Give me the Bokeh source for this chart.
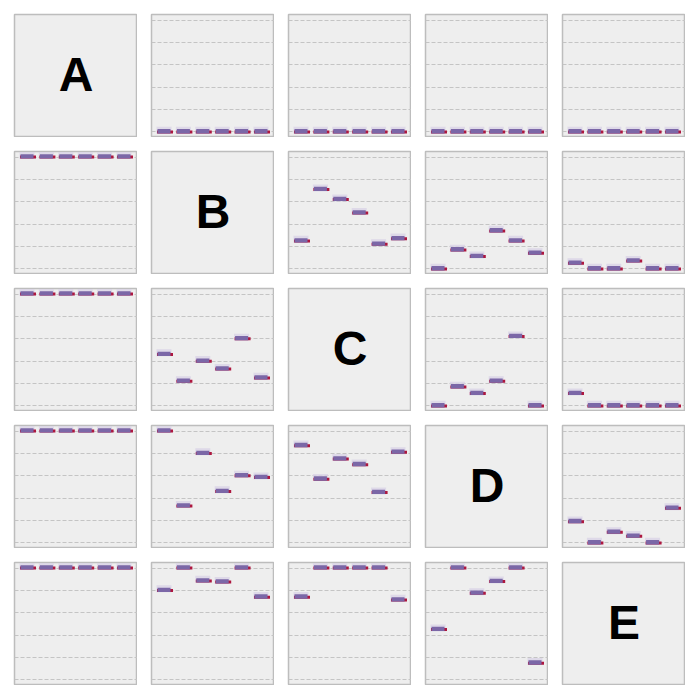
from bokeh.plotting import figure
from bokeh.layouts import gridplot
from bokeh.models import FixedTicker, Range1d
from bokeh.core.properties import value
from bokeh.embed import file_html
from bokeh.resources import INLINE

labels = ["A", "B", "C", "D", "E"]
positions = [0, 1, 2, 3, 4, 5]
grid_ticks = [0.0, 0.2, 0.4, 0.6, 0.8, 1.0]

# values for panel (row, column)
A_B = [0.0, 0.0, 0.0, 0.0, 0.0, 0.0]
A_C = [0.0, 0.0, 0.0, 0.0, 0.0, 0.0]
A_D = [0.0, 0.0, 0.0, 0.0, 0.0, 0.0]
A_E = [0.0, 0.0, 0.0, 0.0, 0.0, 0.0]

B_A = [1.0, 1.0, 1.0, 1.0, 1.0, 1.0]
B_C = [0.25, 0.71, 0.62, 0.50, 0.22, 0.27]
B_D = [0.0, 0.17, 0.11, 0.34, 0.25, 0.14]
B_E = [0.05, 0.0, 0.0, 0.07, 0.0, 0.0]

C_A = [1.0, 1.0, 1.0, 1.0, 1.0, 1.0]
C_B = [0.46, 0.22, 0.40, 0.33, 0.60, 0.25]
C_D = [0.0, 0.17, 0.11, 0.22, 0.62, 0.0]
C_E = [0.11, 0.0, 0.0, 0.0, 0.0, 0.0]

D_A = [1.0, 1.0, 1.0, 1.0, 1.0, 1.0]
D_B = [1.0, 0.33, 0.80, 0.46, 0.60, 0.585]
D_C = [0.87, 0.57, 0.75, 0.70, 0.45, 0.81]
D_E = [0.19, 0.0, 0.095, 0.06, 0.0, 0.31]

E_A = [1.0, 1.0, 1.0, 1.0, 1.0, 1.0]
E_B = [0.80, 1.0, 0.885, 0.875, 1.0, 0.74]
E_C = [0.74, 1.0, 1.0, 1.0, 1.0, 0.715]
E_D = [0.45, 1.0, 0.775, 0.88, 1.0, 0.15]

panels = {
    ("A", "B"): A_B, ("A", "C"): A_C, ("A", "D"): A_D, ("A", "E"): A_E,
    ("B", "A"): B_A, ("B", "C"): B_C, ("B", "D"): B_D, ("B", "E"): B_E,
    ("C", "A"): C_A, ("C", "B"): C_B, ("C", "D"): C_D, ("C", "E"): C_E,
    ("D", "A"): D_A, ("D", "B"): D_B, ("D", "C"): D_C, ("D", "E"): D_E,
    ("E", "A"): E_A, ("E", "B"): E_B, ("E", "C"): E_C, ("E", "D"): E_D,
}

FRAME = 123
GAP = 14
X0, X1 = -0.67, 5.67
Y0, Y1 = -0.05, 1.05
px_x = (X1 - X0) / FRAME
px_y = (Y1 - Y0) / FRAME

PURPLE = "#7b67a7"
CRIMSON = "#ad173f"
HALO = "#d9d3e6"

figs = []
for r in labels:
    for c in labels:
        p = figure(width=FRAME + GAP, height=FRAME + GAP, output_backend="svg",
                   toolbar_location=None, x_range=Range1d(X0, X1), y_range=Range1d(Y0, Y1),
                   min_border_left=GAP, min_border_top=GAP, min_border_right=0, min_border_bottom=0)
        p.axis.visible = False
        p.xgrid.visible = False
        p.background_fill_color = "#eeeeee"
        p.border_fill_color = "white"
        p.outline_line_color = "#bdbdbd"
        p.outline_line_width = 1.5
        if r == c:
            p.ygrid.visible = False
            p.text(x=[(X0 + X1) / 2], y=[(Y0 + Y1) / 2 + 2 * px_y], text=[r],
                   text_font=value("Liberation Sans"), text_font_style="bold",
                   text_font_size="48px", text_align="center", text_baseline="middle",
                   text_color="black")
        else:
            p.ygrid.ticker = FixedTicker(ticks=grid_ticks)
            p.ygrid.grid_line_color = "#c4c4c4"
            p.ygrid.grid_line_dash = "4 2"
            p.ygrid.grid_line_width = 1
            vals = panels[(r, c)]
            xs = positions
            p.rect(x=[x - 0.5 * px_x for x in xs], y=[v + 1.6 * px_y for v in vals],
                   width=15, height=7, width_units="screen", height_units="screen",
                   fill_color=HALO, line_color=None, fill_alpha=0.8)
            p.rect(x=[x + 0.5 * px_x for x in xs], y=vals,
                   width=16, height=3, width_units="screen", height_units="screen",
                   fill_color=CRIMSON, line_color=None)
            p.rect(x=[x - 0.5 * px_x for x in xs], y=[v + 0.65 * px_y for v in vals],
                   width=13, height=4.3, width_units="screen", height_units="screen",
                   fill_color=PURPLE, line_color=None)
        figs.append(p)

grid = gridplot(figs, ncols=5, toolbar_location=None)

open("out.html", "w").write(file_html(grid, INLINE))
